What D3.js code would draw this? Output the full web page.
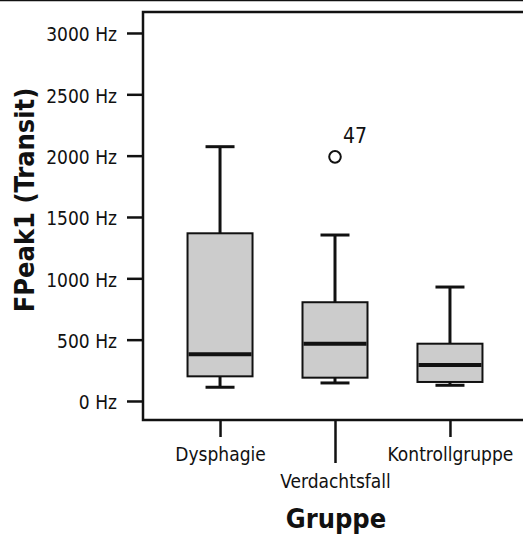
<!DOCTYPE html>
<html>
<head>
<meta charset="utf-8">
<script src="https://cdn.jsdelivr.net/npm/d3@7"></script>
<style>
  html, body { margin: 0; padding: 0; background: #fff; }
  svg { display: block; }
  text { font-family: "DejaVu Sans Condensed", "DejaVu Sans", sans-serif; font-stretch: condensed; fill: #111; }
</style>
</head>
<body>
<svg id="chart" width="523" height="536"></svg>
<script>
// Five-number summaries of FPeak1 (Transit) per group, in Hz
const categories   = ["Dysphagie", "Verdachtsfall", "Kontrollgruppe"];
const whiskerLow   = [112, 147, 128];
const quartile1    = [201, 190, 155];
const medians      = [381, 467, 293];
const quartile3    = [1367, 805, 467];
const whiskerHigh  = [2073, 1353, 929];

// Outliers: group, value, case label
const outlierGroups = ["Verdachtsfall"];
const outlierValues = [1990];
const outlierLabels = ["47"];

const yTicks = [0, 500, 1000, 1500, 2000, 2500, 3000];
const yTitle = "FPeak1 (Transit)";
const xTitle = "Gruppe";

const svg = d3.select("#chart");
const W = 523, H = 536;
const plotLeft = 143, plotRight = 527, plotTop = 12, plotBottom = 420;

const x = d3.scalePoint().domain(categories).range([plotLeft, plotRight]).padding(0.67);
const y = d3.scaleLinear().domain([-155, 3171]).range([plotBottom, plotTop]);

const boxW = 65, capW = 29;
const ink = "#111";

// page rule along the top edge
svg.append("line").attr("x1", 0).attr("x2", W).attr("y1", 0.5).attr("y2", 0.5)
  .attr("stroke", ink).attr("stroke-width", 1.5);

// boxes
const rows = categories.map((c, i) => ({
  c, lo: whiskerLow[i], q1: quartile1[i], med: medians[i], q3: quartile3[i], hi: whiskerHigh[i]
}));

const g = svg.append("g");
const b = g.selectAll("g.box").data(rows).join("g").attr("class", "box");

// whisker stems
b.append("line").attr("x1", d => x(d.c)).attr("x2", d => x(d.c))
  .attr("y1", d => y(d.q3)).attr("y2", d => y(d.hi)).attr("stroke", ink).attr("stroke-width", 3);
b.append("line").attr("x1", d => x(d.c)).attr("x2", d => x(d.c))
  .attr("y1", d => y(d.q1)).attr("y2", d => y(d.lo)).attr("stroke", ink).attr("stroke-width", 3);
// caps
b.append("line").attr("x1", d => x(d.c) - capW / 2).attr("x2", d => x(d.c) + capW / 2)
  .attr("y1", d => y(d.hi)).attr("y2", d => y(d.hi)).attr("stroke", ink).attr("stroke-width", 3);
b.append("line").attr("x1", d => x(d.c) - capW / 2).attr("x2", d => x(d.c) + capW / 2)
  .attr("y1", d => y(d.lo)).attr("y2", d => y(d.lo)).attr("stroke", ink).attr("stroke-width", 3);
// interquartile box
b.append("rect").attr("x", d => x(d.c) - boxW / 2).attr("width", boxW)
  .attr("y", d => y(d.q3)).attr("height", d => y(d.q1) - y(d.q3))
  .attr("fill", "#cccccc").attr("stroke", ink).attr("stroke-width", 2);
// median
b.append("line").attr("x1", d => x(d.c) - boxW / 2 + 1).attr("x2", d => x(d.c) + boxW / 2 - 1)
  .attr("y1", d => y(d.med)).attr("y2", d => y(d.med)).attr("stroke", ink).attr("stroke-width", 4);

// outliers
const outs = outlierGroups.map((c, i) => ({ c, v: outlierValues[i], label: outlierLabels[i] }));
g.selectAll("circle.out").data(outs).join("circle").attr("class", "out")
  .attr("cx", d => x(d.c)).attr("cy", d => y(d.v)).attr("r", 5.8)
  .attr("fill", "#fff").attr("stroke", ink).attr("stroke-width", 2);
g.selectAll("text.out").data(outs).join("text").attr("class", "out")
  .attr("x", d => x(d.c) + 8).attr("y", d => y(d.v) - 14)
  .attr("font-size", 21).text(d => d.label);

// y axis
const yAxis = svg.append("g").attr("transform", `translate(${plotLeft},0)`)
  .call(d3.axisLeft(y).tickValues(yTicks).tickFormat(d => d + " Hz").tickSize(16).tickPadding(10));
yAxis.select(".domain").remove();
yAxis.selectAll(".tick line").attr("stroke", ink).attr("stroke-width", 2.5);
yAxis.selectAll(".tick text").attr("font-size", 19).attr("dy", "0.42em")
  .attr("font-family", null).attr("fill", ink);

// x axis with staggered labels
const xAxis = svg.append("g").attr("transform", `translate(0,${plotBottom})`)
  .call(d3.axisBottom(x).tickSize(17).tickPadding(0));
xAxis.select(".domain").remove();
xAxis.selectAll(".tick line").attr("stroke", ink).attr("stroke-width", 2.5)
  .attr("y2", (d, i) => i % 2 ? 43 : 17);
xAxis.selectAll(".tick text").attr("font-size", 19).attr("font-family", null).attr("fill", ink)
  .attr("dy", null).attr("y", (d, i) => i % 2 ? 68 : 41);

// frame
svg.append("path")
  .attr("d", `M${W},${plotTop}H${plotLeft}V${plotBottom}H${W}`)
  .attr("fill", "none").attr("stroke", ink).attr("stroke-width", 2.5);

// titles
svg.append("text").attr("transform", "translate(34,200) rotate(-90)")
  .attr("text-anchor", "middle").attr("font-weight", "bold").attr("font-size", 27)
  .text(yTitle);
svg.append("text").attr("x", 336).attr("y", 527.7)
  .attr("text-anchor", "middle").attr("font-weight", "bold").attr("font-size", 27)
  .text(xTitle);
</script>
</body>
</html>
